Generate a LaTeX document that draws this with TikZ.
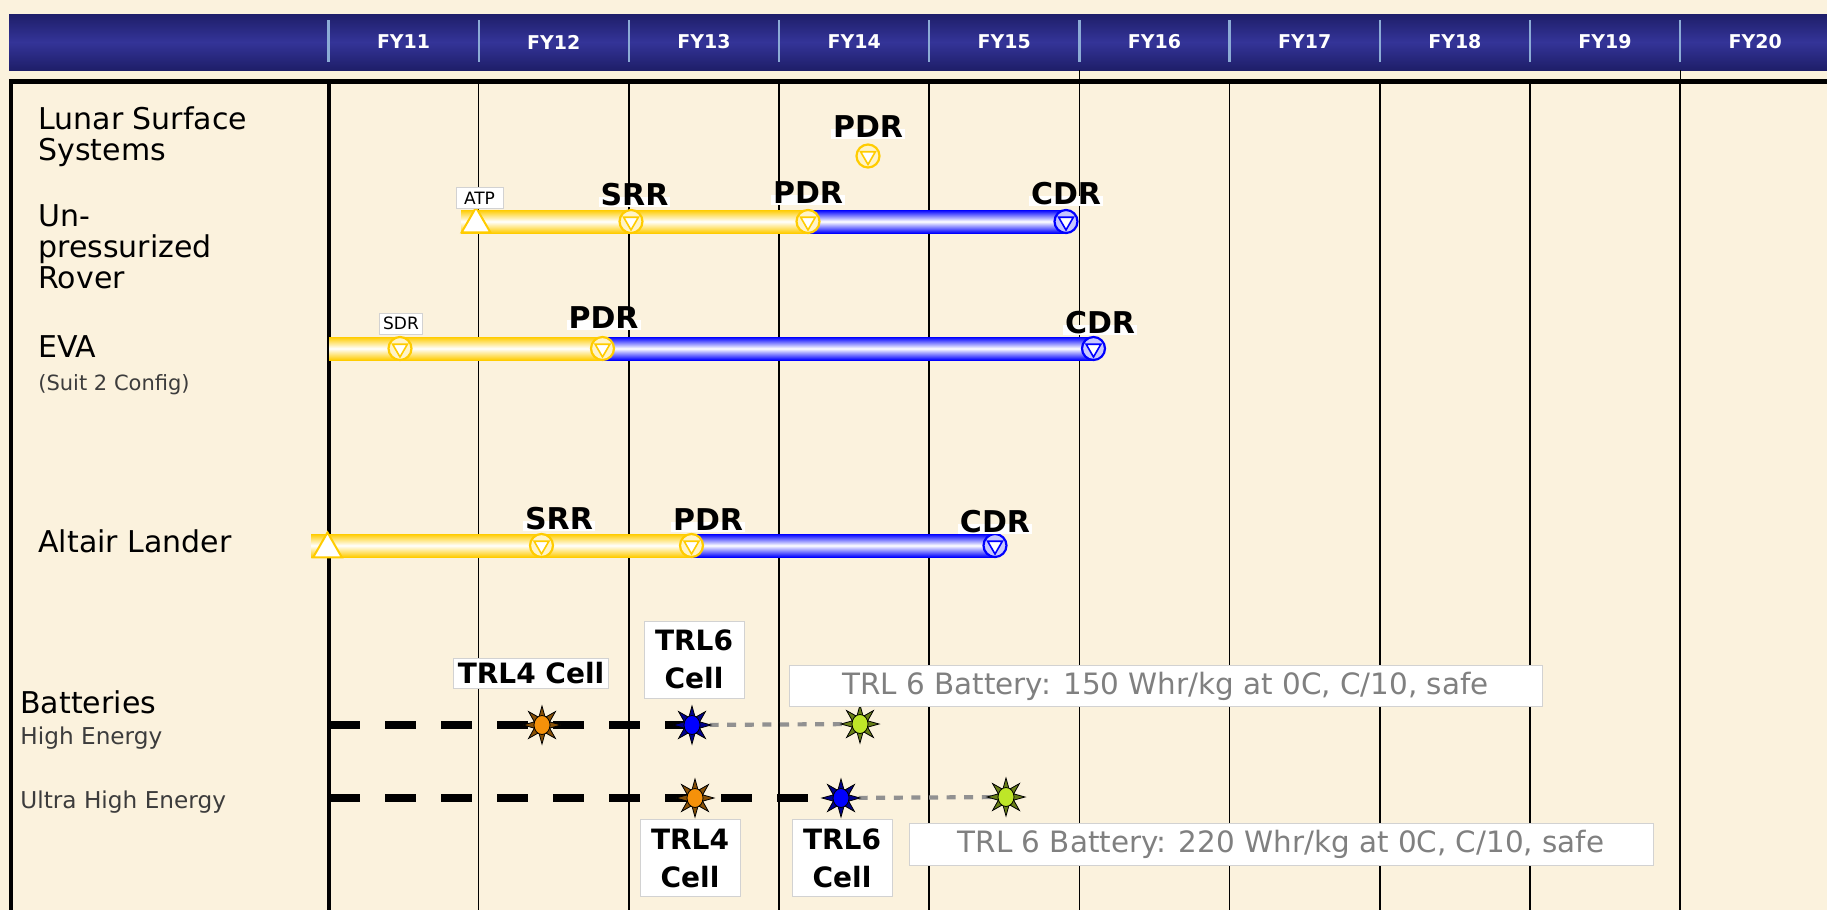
\documentclass[tikz,border=0pt]{standalone}
\usepackage{fontspec}
\setmainfont{DejaVu Sans}
\usetikzlibrary{shapes.geometric,calc}

\definecolor{parch}{RGB}{251,242,221}
\definecolor{hdrdark}{RGB}{30,30,105}
\definecolor{hdrmid}{RGB}{52,52,152}
\definecolor{hdrsep}{RGB}{140,172,214}
\definecolor{msyel}{RGB}{255,204,0}
\definecolor{msblu}{RGB}{0,0,255}
\definecolor{cellorg}{RGB}{245,145,10}
\definecolor{celllime}{RGB}{190,230,40}
\definecolor{infogray}{RGB}{128,128,128}
\definecolor{boxline}{RGB}{210,210,210}
\definecolor{subgray}{RGB}{60,60,60}
\definecolor{dashgray}{RGB}{145,145,145}

\pgfdeclarelayer{back}
\pgfdeclarelayer{bars}
\pgfsetlayers{back,bars,main}

\tikzset{every picture/.style={line width=0.75pt}}
\tikzset{
  fyhead/.style={text=white, inner sep=0pt, font=\bfseries\fontsize{9.5}{11}\selectfont},
  rowlbl/.style={anchor=base west, align=left, inner sep=0pt, font=\fontsize{15}{15.5}\selectfont},
  sublbl/.style={anchor=base west, inner sep=0pt, text=subgray, font=\fontsize{11.6}{13}\selectfont},
  mslbl/.style={anchor=base, fill=white, inner xsep=1pt, inner ysep=0pt, text height=0.4em, text depth=0.1em, font=\bfseries\fontsize{15}{16}\selectfont},
  tinylbl/.style={fill=white, draw=boxline, line width=0.4pt, inner xsep=2pt, inner ysep=0pt, minimum height=10.5pt, font=\fontsize{8.5}{9}\selectfont},
  gate/.style={circle, draw=#1, fill=#1!22, line width=1.1pt, minimum size=11.5pt, inner sep=0pt,
    path picture={\node[regular polygon, regular polygon sides=3, shape border rotate=180, draw=#1, fill=white, line width=0.8pt, minimum size=8.5pt, inner sep=0pt] at (path picture bounding box.center) {};}},
  atp/.style={regular polygon, regular polygon sides=3, draw=msyel, fill=white, line width=1pt, minimum size=16.5pt, inner sep=0pt},
  yelbar/.style={top color=msyel, bottom color=msyel, middle color=white},
  blubar/.style={top color=msblu, bottom color=msblu, middle color=white},
  cellcore/.style={ellipse, draw=black, fill=#1, line width=0.4pt, minimum width=8pt, minimum height=9.5pt, inner sep=0pt},
  cell/.style={star, star points=8, star point ratio=2.3, draw=black, fill=#1!55!black, line width=0.4pt, minimum size=19pt, inner sep=0pt,
    label={[cellcore=#1]center:}},
  celllbl/.style={fill=white, draw=boxline, line width=0.5pt, align=center, inner xsep=2pt, inner ysep=2pt, font=\bfseries\fontsize{14}{19}\selectfont},
  infobox/.style={fill=white, draw=boxline, line width=0.5pt, text=infogray, font=\fontsize{14.7}{17}\selectfont},
  blkdash/.style={line width=3.6pt, dash pattern=on 15.5pt off 12.5pt},
  grydash/.style={draw=dashgray, line width=2.1pt, dash pattern=on 4.5pt off 4.3pt},
}

\begin{document}
\begin{tikzpicture}[x=0.5pt,y=0.5pt,yscale=-1,xscale=1]
\useasboundingbox (0,0) rectangle (1827,910);

%Background, header bar and grid
\begin{pgfonlayer}{back}
\fill[parch] (0,0) rectangle (1827,910);
\shade[top color=hdrdark, bottom color=hdrdark, middle color=hdrmid] (9,14) rectangle (1827,70);
\foreach \i in {0,...,9}
  \draw[hdrsep, line width=1.1pt] ({328.5+150.18*\i},20) -- ({328.5+150.18*\i},62);
\draw[line width=0.5pt] (1079,70) -- (1079,82);
\draw[line width=0.5pt] (1680,70) -- (1680,82);
\draw[line width=2.25pt] (9,81.7) -- (1827,81.7);
\draw[line width=2pt] (11,80) -- (11,910);
\draw[line width=2pt] (329,80) -- (329,910);
\foreach \i in {1,...,9}
  \draw[line width=0.8pt] ({328.5+150.18*\i},81) -- ({328.5+150.18*\i},910);
\end{pgfonlayer}

% Text Node: fiscal years
\foreach \i [evaluate=\i as \yr using int(11+\i)] in {0,...,9}
  \node[fyhead] (fy\yr) at ({403.6+150.18*\i},42) {FY\yr};

% Text Node: row labels (anchor is on the last line)
\node[rowlbl] (lss) at (38,160) {Lunar Surface\\Systems};
\node[rowlbl] (rov) at (38,288) {Un-\\pressurized\\Rover};
\node[rowlbl] (eva) at (38,357) {EVA};
\node[sublbl, font=\fontsize{10.5}{12}\selectfont] (eva-sub) at (38,390) {(Suit 2 Config)};
\node[rowlbl] (alt) at (38,552) {Altair Lander};
\node[rowlbl] (bat) at (20,713) {Batteries};
\node[sublbl] (bat-he) at (20,744) {High Energy};
\node[sublbl] (bat-uhe) at (20,808) {Ultra High Energy};

%Milestones: Lunar Surface Systems
\node[gate=msyel] (lss-pdr) at (868,156) {};
\node[mslbl] (lss-pdrl) at (868,137) {PDR};

%Milestones: Un-pressurized Rover
\coordinate (rov-a) at (461,221.5);
\node[atp] (rov-atp) at (476,224) {};
\node[gate=msyel] (rov-srr) at (631,221.5) {};
\node[gate=msyel] (rov-pdr) at (808,221.5) {};
\node[gate=msblu] (rov-cdr) at (1066,221.5) {};
\node[tinylbl, minimum width=23.5pt] (rov-atpl) at (479.5,198) {ATP};
\node[mslbl] (rov-srrl) at (634.5,205) {SRR};
\node[mslbl] (rov-pdrl) at (808,203) {PDR};
\node[mslbl] (rov-cdrl) at (1066,204) {CDR};

%Milestones: EVA
\coordinate (eva-a) at (329,348.5);
\node[gate=msyel] (eva-sdr) at (400,348.5) {};
\node[gate=msyel] (eva-pdr) at (602.5,348.5) {};
\node[gate=msblu] (eva-cdr) at (1093.5,348.5) {};
\node[tinylbl] (eva-sdrl) at (401,323.5) {SDR};
\node[mslbl] (eva-pdrl) at (603.5,328) {PDR};
\node[mslbl] (eva-cdrl) at (1100,333) {CDR};

%Milestones: Altair Lander
\coordinate (alt-a) at (311,545.5);
\node[atp] (alt-atp) at (327.5,549) {};
\node[gate=msyel] (alt-srr) at (541.5,545.5) {};
\node[gate=msyel] (alt-pdr) at (691.5,545.5) {};
\node[gate=msblu] (alt-cdr) at (995,545.5) {};
\node[mslbl] (alt-srrl) at (559,529) {SRR};
\node[mslbl] (alt-pdrl) at (708,530) {PDR};
\node[mslbl] (alt-cdrl) at (995,532) {CDR};

%Batteries: cells
\coordinate (he-a) at (329,725);
\coordinate (uhe-a) at (329,798);
\node[cell=cellorg] (he-trl4) at (542,725) {};
\node[cell=msblu] (he-trl6) at (692,725) {};
\node[cell=celllime] (he-bat) at (860,724) {};
\node[cell=cellorg] (uhe-trl4) at (695,798) {};
\node[cell=msblu] (uhe-trl6) at (841,798) {};
\node[cell=celllime] (uhe-bat) at (1006,797) {};

% Text Node: battery labels
\node[celllbl] (he-trl4l) at (531,673.5) {TRL4 Cell};
\node[celllbl, minimum width=50pt, minimum height=38.5pt] (he-trl6l) at (694,659.5) {TRL6\\Cell};
\node[infobox, minimum width=376.5pt, minimum height=19.5pt] (he-info) at (1165.5,686) {TRL 6 Battery: 150 Whr/kg at 0C, C/10, safe};
\node[celllbl, minimum width=50pt, minimum height=38.5pt] (uhe-trl4l) at (690,858) {TRL4\\Cell};
\node[celllbl, minimum width=50pt, minimum height=38.5pt] (uhe-trl6l) at (842,858) {TRL6\\Cell};
\node[infobox, minimum width=372pt, minimum height=18.5pt] (uhe-info) at (1281,844.5) {TRL 6 Battery: 220 Whr/kg at 0C, C/10, safe};

%Bars and dashed lines
\begin{pgfonlayer}{bars}
\fill[yelbar] ($(rov-a)+(0,-11.5)$) rectangle ($(rov-pdr.center)+(0,11.5)$);
\fill[blubar] ($(rov-pdr.center)+(0,-11.5)$) rectangle ($(rov-cdr.center)+(0,11.5)$);
\fill[yelbar] ($(eva-a)+(0,-11.5)$) rectangle ($(eva-pdr.center)+(0,11.5)$);
\fill[blubar] ($(eva-pdr.center)+(0,-11.5)$) rectangle ($(eva-cdr.center)+(0,11.5)$);
\fill[yelbar] ($(alt-a)+(0,-11.5)$) rectangle ($(alt-pdr.center)+(0,11.5)$);
\fill[blubar] ($(alt-pdr.center)+(0,-11.5)$) rectangle ($(alt-cdr.center)+(0,11.5)$);
\draw[blkdash] (he-a) -- (he-trl6.center);
\draw[grydash] (he-trl6.center) -- (he-bat.center);
\draw[blkdash] (uhe-a) -- (uhe-trl6.center);
\draw[grydash] (uhe-trl6.center) -- (uhe-bat.center);
\end{pgfonlayer}

\end{tikzpicture}
\end{document}
